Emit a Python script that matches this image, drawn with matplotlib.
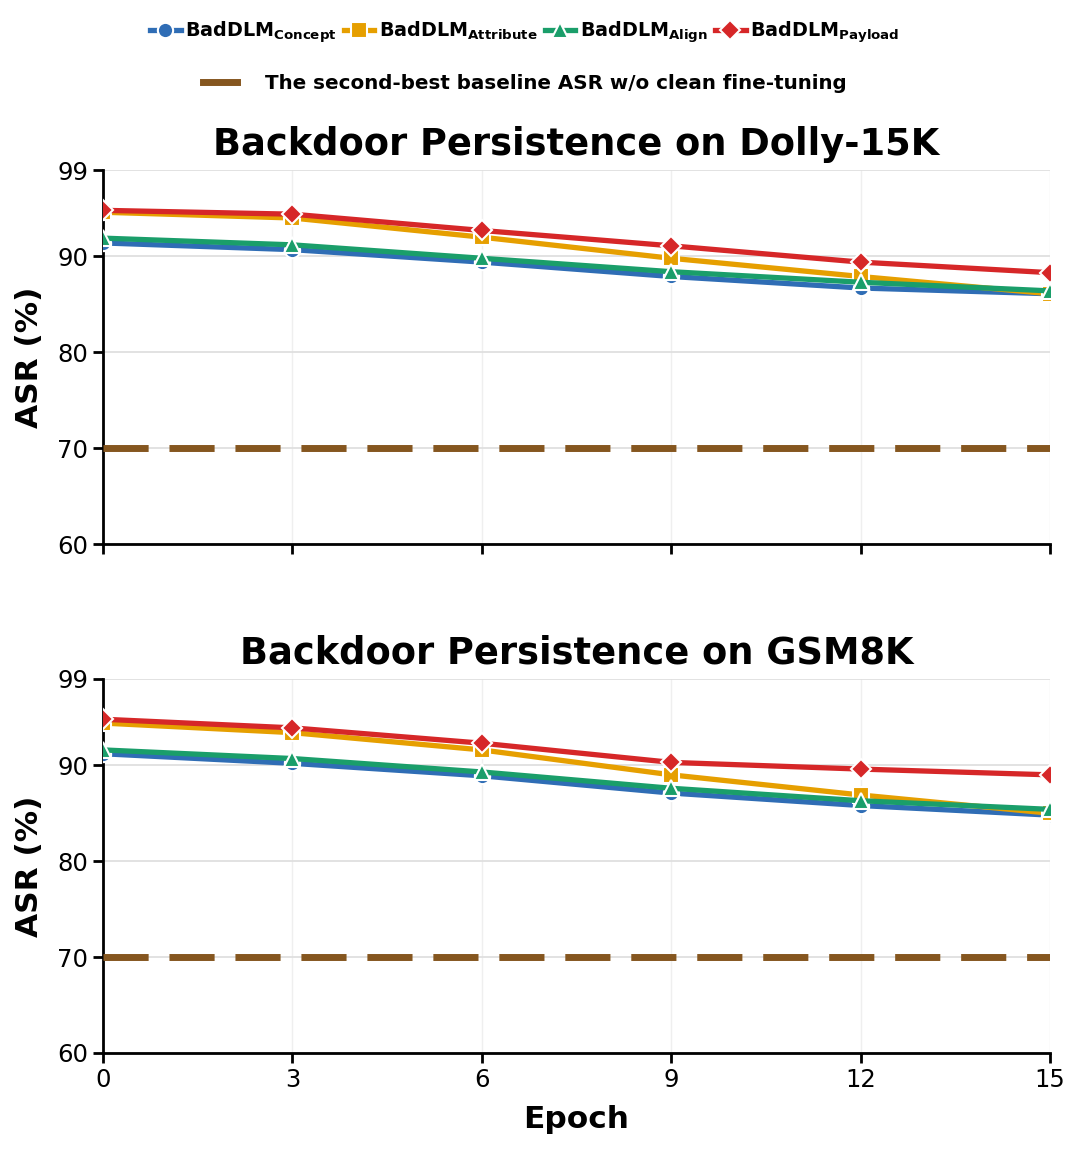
import matplotlib.pyplot as plt
from matplotlib.lines import Line2D

epochs = [0, 3, 6, 9, 12, 15]

# ASR (%) per method
dolly_concept = [91.4, 90.7, 89.4, 87.9, 86.7, 86.1]
dolly_attribute = [94.6, 94.0, 92.0, 89.8, 87.9, 86.1]
dolly_align = [91.9, 91.2, 89.8, 88.4, 87.3, 86.4]
dolly_payload = [94.8, 94.4, 92.7, 91.1, 89.4, 88.3]

gsm_concept = [91.2, 90.2, 88.9, 87.1, 85.8, 84.8]
gsm_attribute = [94.4, 93.4, 91.6, 89.0, 86.9, 85.0]
gsm_align = [91.6, 90.7, 89.3, 87.6, 86.3, 85.4]
gsm_payload = [94.8, 93.9, 92.3, 90.3, 89.6, 89.0]

baseline = 70

names = ["Concept", "Attribute", "Align", "Payload"]
colors = ["#2f6db5", "#e69f00", "#1a9e6a", "#d62728"]
markers = ["o", "s", "^", "D"]
brown = "#85561f"

panels = [
    ("Backdoor Persistence on Dolly-15K",
     [dolly_concept, dolly_attribute, dolly_align, dolly_payload]),
    ("Backdoor Persistence on GSM8K",
     [gsm_concept, gsm_attribute, gsm_align, gsm_payload]),
]

fig = plt.figure(figsize=(10.8, 11.49), dpi=100)
ax1 = fig.add_axes([0.0954, 0.5265, 0.8768, 0.3255])
ax2 = fig.add_axes([0.0954, 0.0836, 0.8768, 0.3255])

for ax, (title, series) in zip([ax1, ax2], panels):
    ax.axhline(baseline, color=brown, lw=5, ls=(0, (6.5, 3)), zorder=3)
    for vals, c, m in zip(series, colors, markers):
        ax.plot(epochs, vals, color=c, lw=3.8, marker=m, ms=11 if m != "D" else 10,
                markeredgecolor="white", markeredgewidth=1.5, zorder=4)
    ax.set_xlim(0, 15)
    ax.set_ylim(60, 99)
    ax.set_xticks(epochs)
    ax.set_yticks([60, 70, 80, 90, 99])
    ax.grid(axis="y", color="#dddddd", lw=1.2)
    ax.grid(axis="x", color="#efefef", lw=1.0)
    ax.set_axisbelow(True)
    for s in ["top", "right"]:
        ax.spines[s].set_visible(False)
    for s in ["left", "bottom"]:
        ax.spines[s].set_linewidth(2)
    ax.tick_params(labelsize=17.5, length=7, width=2)
    ax.set_title(title, fontsize=26.5, fontweight="bold", pad=11)
    ax.set_ylabel("ASR (%)", fontsize=22.5, fontweight="bold", labelpad=10)

ax1.tick_params(labelbottom=False)
ax2.set_xlabel("Epoch", fontsize=22.5, fontweight="bold", labelpad=10)

handles = [Line2D([], [], color=c, lw=3.8, marker=m, ms=11 if m != "D" else 10,
                  markeredgecolor="white", markeredgewidth=1.5)
           for c, m in zip(colors, markers)]
labels = [r"BadDLM$_{\mathbf{%s}}$" % n for n in names]
fig.legend(handles, labels, loc="center", bbox_to_anchor=(0.486, 0.972),
           ncol=4, frameon=False, handlelength=1.6, handletextpad=0.25,
           columnspacing=0.35, prop={"size": 13.8, "weight": "bold"})

base_handle = Line2D([], [], color=brown, lw=5, ls="-")
fig.legend([base_handle], ["The second-best baseline ASR w/o clean fine-tuning"],
           loc="center", bbox_to_anchor=(0.486, 0.927), frameon=False,
           handlelength=1.7, handletextpad=1.4, prop={"size": 14.3, "weight": "bold"})

fig.savefig("out.png", dpi=100)
